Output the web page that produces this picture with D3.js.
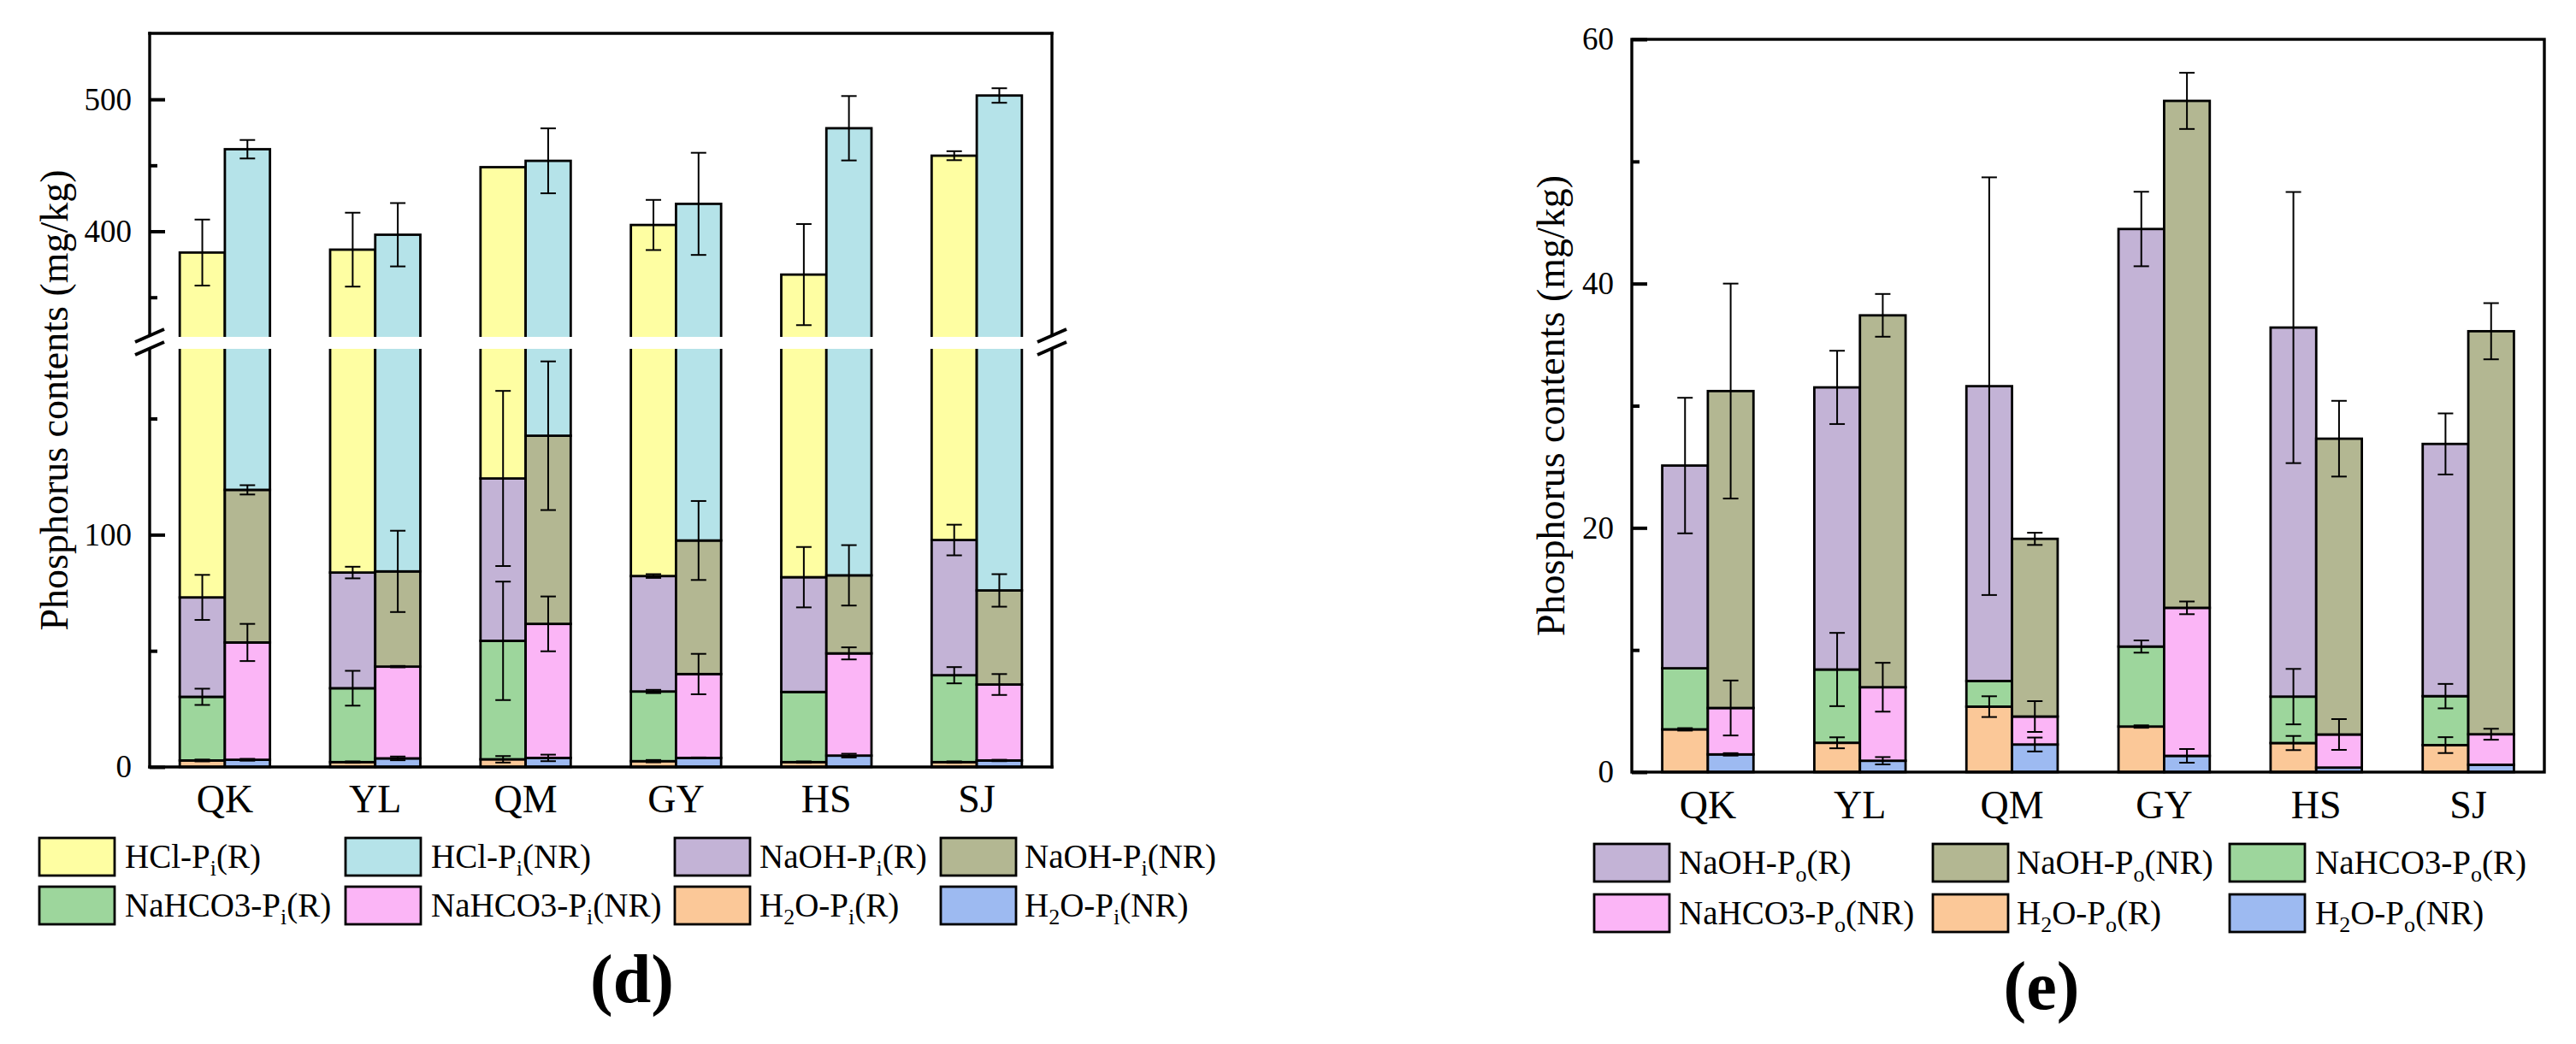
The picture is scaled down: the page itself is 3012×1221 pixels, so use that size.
<!DOCTYPE html>
<html>
<head>
<meta charset="utf-8">
<script src="https://cdn.jsdelivr.net/npm/d3@7"></script>
<style>
  body { margin: 0; background: #fff; }
  svg { display: block; }
  text { font-family: "Liberation Serif", "Times New Roman", serif; fill: #000; }
</style>
</head>
<body>
<div id="chart"></div>
<script>
// Categories (sites)
const categories = ["QK", "YL", "QM", "GY", "HS", "SJ"];

// Panel (d): inorganic P fractions (mg/kg), stacked bottom -> top
const piKeys = ["H2O", "NaHCO3", "NaOH", "HCl"];
const piH2O_R     = [2.8, 2.1, 3.3, 2.5, 2.1, 2.1];
const piNaHCO3_R  = [27.4, 31.8, 51.0, 30.0, 30.2, 37.4];
const piNaOH_R    = [42.8, 49.8, 69.9, 49.7, 49.4, 58.2];
const piHCl_R     = [310.9, 302.4, 324.4, 322.6, 285.5, 359.6];
const piH2O_NR    = [3.1, 3.7, 3.9, 3.9, 4.9, 2.8];
const piNaHCO3_NR = [50.5, 39.5, 57.7, 36.1, 44.0, 32.7];
const piNaOH_NR   = [65.7, 41.0, 81.0, 57.5, 33.6, 40.5];
const piHCl_NR    = [342.9, 313.2, 310.8, 323.3, 395.6, 426.9];
// error bars (sd)
const piH2O_R_sd     = [0.4, 0.3, 1.4, 0.5, 0.3, 0.3];
const piNaHCO3_R_sd  = [3.5, 7.5, 25.5, 0.7, 0, 3.5];
const piNaOH_R_sd    = [9.7, 2.5, 37.7, 0.8, 13, 6.6];
const piHCl_R_sd     = [25, 28, 0, 19, 38.3, 3.4];
const piH2O_NR_sd    = [0.4, 0.8, 1.4, 0.2, 0.8, 0.3];
const piNaHCO3_NR_sd = [8, 0.3, 11.8, 8.7, 2.6, 4.5];
const piNaOH_NR_sd   = [2, 17.5, 32, 17, 13, 7];
const piHCl_NR_sd    = [7, 24, 24.6, 38.7, 24.4, 5.5];

// Panel (e): organic P fractions (mg/kg)
const poKeys = ["H2O", "NaHCO3", "NaOH"];
const poH2O_R     = [3.5, 2.4, 5.36, 3.73, 2.38, 2.21];
const poNaHCO3_R  = [5.0, 6.0, 2.1, 6.55, 3.8, 4.01];
const poNaOH_R    = [16.6, 23.1, 24.14, 34.19, 30.22, 20.65];
const poH2O_NR    = [1.45, 0.93, 2.26, 1.33, 0.37, 0.6];
const poNaHCO3_NR = [3.8, 6.02, 2.29, 12.12, 2.71, 2.5];
const poNaOH_NR   = [25.95, 30.45, 14.55, 41.51, 24.22, 33.0];
const poH2O_R_sd     = [0.1, 0.45, 0.85, 0.1, 0.58, 0.65];
const poNaHCO3_R_sd  = [0, 3.0, 0, 0.5, 2.27, 1.0];
const poNaOH_R_sd    = [5.55, 3.0, 17.1, 3.05, 11.1, 2.5];
const poH2O_NR_sd    = [0.1, 0.3, 0.57, 0.56, 0, 0];
const poNaHCO3_NR_sd = [2.25, 2.0, 1.26, 0.52, 1.26, 0.45];
const poNaOH_NR_sd   = [8.8, 1.75, 0.5, 2.3, 3.1, 2.3];

// Tick values
const piLowMajor = [0, 100], piLowMinor = [50, 150];
const piHighMajor = [400, 500], piHighMinor = [350, 450];
const poMajor = [0, 20, 40, 60], poMinor = [10, 30, 50];

const colors = {
  HCl_R: "#FEFEA2", HCl_NR: "#B5E3E9",
  NaOH_R: "#C3B3D6", NaOH_NR: "#B3B792",
  NaHCO3_R: "#9DD69C", NaHCO3_NR: "#FBB5F6",
  H2O_R: "#FBC898", H2O_NR: "#9DBAF1"
};

const svg = d3.select("#chart").append("svg")
  .attr("width", 3012).attr("height", 1221);
svg.append("rect").attr("width", 3012).attr("height", 1221).attr("fill", "#fff");

// write a label made of [text, isSub] pieces
function richText(sel, pieces, size, subSize) {
  pieces.forEach(([t, sub], i) => {
    const prevSub = i > 0 && pieces[i - 1][1];
    const ts = sel.append("tspan").text(t)
      .style("font-size", (sub ? subSize : size) + "px");
    if (sub && !prevSub) ts.attr("dy", 9);
    if (!sub && prevSub) ts.attr("dy", -9);
  });
}

function drawPanel(p) {
  const g = svg.append("g");
  const x = d3.scaleBand().domain(categories).range([p.left, p.right])
    .paddingInner(0.4).paddingOuter(0.2);
  const xs = d3.scaleBand().domain(["R", "NR"]).range([0, x.bandwidth()]);

  const stacks = {};
  ["R", "NR"].forEach(grp => {
    const data = categories.map((c, i) => {
      const r = { cat: c };
      p.keys.forEach((k, j) => r[k] = p.values[grp][j][i]);
      return r;
    });
    stacks[grp] = d3.stack().keys(p.keys)(data);
  });

  // bars, one pass per axis segment (clipped)
  p.parts.forEach((part, n) => {
    const id = p.id + "clip" + n;
    svg.append("clipPath").attr("id", id).append("rect")
      .attr("x", p.left).attr("y", part.top)
      .attr("width", p.right - p.left).attr("height", part.bottom - part.top);
    const pg = g.append("g").attr("clip-path", `url(#${id})`);
    ["R", "NR"].forEach(grp => {
      pg.append("g").selectAll("g").data(stacks[grp]).join("g")
        .attr("fill", s => colors[s.key + "_" + grp])
        .selectAll("rect").data(s => s).join("rect")
        .attr("x", d => x(d.data.cat) + xs(grp))
        .attr("y", d => part.y(d[1]))
        .attr("width", xs.bandwidth())
        .attr("height", d => part.y(d[0]) - part.y(d[1]))
        .attr("stroke", "#000").attr("stroke-width", 2.8);
    });
  });

  // error bars on top of each segment
  const eg = g.append("g").attr("stroke", "#000").attr("stroke-width", 2);
  ["R", "NR"].forEach(grp => {
    stacks[grp].forEach((s, j) => {
      s.forEach((d, i) => {
        const e = p.sd[grp][j][i];
        if (!e) return;
        const cx = x(d.data.cat) + xs(grp) + xs.bandwidth() / 2;
        const y1 = p.y(d[1] + e), y2 = p.y(d[1] - e);
        eg.append("line").attr("x1", cx).attr("x2", cx).attr("y1", y1).attr("y2", y2);
        eg.append("line").attr("x1", cx - 9).attr("x2", cx + 9).attr("y1", y1).attr("y2", y1);
        eg.append("line").attr("x1", cx - 9).attr("x2", cx + 9).attr("y1", y2).attr("y2", y2);
      });
    });
  });

  // y axes
  p.axes.forEach(a => {
    const maj = g.append("g").attr("transform", `translate(${p.left},0)`)
      .call(d3.axisLeft(a.scale).tickValues(a.major).tickSize(-18).tickPadding(21)
        .tickFormat(d3.format("d")));
    maj.select(".domain").remove();
    maj.selectAll("line").attr("stroke", "#000").attr("stroke-width", 4);
    maj.selectAll("text").style("font-size", "37px").attr("fill", "#000");
    const mi = g.append("g").attr("transform", `translate(${p.left},0)`)
      .call(d3.axisLeft(a.scale).tickValues(a.minor).tickSize(-9).tickFormat(""));
    mi.select(".domain").remove();
    mi.selectAll("line").attr("stroke", "#000").attr("stroke-width", 4);
  });

  // frame
  p.frame(g);

  // category labels
  g.append("g").selectAll("text").data(categories).join("text")
    .attr("x", d => x(d) + x.bandwidth() / 2).attr("y", p.catY)
    .attr("text-anchor", "middle").style("font-size", "46px").text(d => d);

  // axis title
  g.append("text")
    .attr("transform", `translate(${p.titleX},${(p.top + p.bottom) / 2}) rotate(-90)`)
    .attr("text-anchor", "middle").style("font-size", "46px")
    .text("Phosphorus contents (mg/kg)");

  // legend
  p.legend.forEach((item, k) => {
    const col = k % p.legendCols.length, row = Math.floor(k / p.legendCols.length);
    const cy = p.legendRows[row];
    g.append("rect").attr("x", p.legendCols[col]).attr("y", cy - 22)
      .attr("width", 88).attr("height", 44)
      .attr("fill", colors[item.key]).attr("stroke", "#000").attr("stroke-width", 2.8);
    const t = g.append("text").attr("x", p.legendText[col]).attr("y", cy + 13);
    richText(t, item.label, 39, 26);
  });

  // panel letter
  g.append("text").attr("x", p.letterX).attr("y", p.letterY)
    .attr("text-anchor", "middle").style("font-size", "80px").style("font-weight", "bold")
    .text(p.letter);
}

// ---------- panel (d) with broken axis ----------
const dL = 175, dR = 1230, dT = 39, dB = 897, gapTop = 394, gapBot = 408;
const yLow = d3.scaleLinear().domain([0, 180]).range([dB, gapBot]);
const yHigh = d3.scaleLinear().domain([320, 550]).range([gapTop, dT]);
const yD = v => v <= 180 ? yLow(v) : yHigh(v);

drawPanel({
  id: "d", left: dL, right: dR, top: dT, bottom: dB,
  keys: piKeys,
  values: {
    R: [piH2O_R, piNaHCO3_R, piNaOH_R, piHCl_R],
    NR: [piH2O_NR, piNaHCO3_NR, piNaOH_NR, piHCl_NR]
  },
  sd: {
    R: [piH2O_R_sd, piNaHCO3_R_sd, piNaOH_R_sd, piHCl_R_sd],
    NR: [piH2O_NR_sd, piNaHCO3_NR_sd, piNaOH_NR_sd, piHCl_NR_sd]
  },
  parts: [
    { y: yLow, top: gapBot, bottom: dB + 2 },
    { y: yHigh, top: dT - 2, bottom: gapTop }
  ],
  y: yD,
  axes: [
    { scale: yLow, major: piLowMajor, minor: piLowMinor },
    { scale: yHigh, major: piHighMajor, minor: piHighMinor }
  ],
  frame: g => {
    const f = g.append("g").attr("stroke", "#000").attr("stroke-width", 3.4)
      .attr("stroke-linecap", "square");
    f.append("line").attr("x1", dL).attr("x2", dR).attr("y1", dT).attr("y2", dT);
    f.append("line").attr("x1", dL).attr("x2", dR).attr("y1", dB).attr("y2", dB);
    [dL, dR].forEach(xx => {
      f.append("line").attr("x1", xx).attr("x2", xx).attr("y1", dT).attr("y2", gapTop - 2);
      f.append("line").attr("x1", xx).attr("x2", xx).attr("y1", gapBot + 2).attr("y2", dB);
      [gapTop - 1.5, gapBot - 0.5].forEach(cy => {
        f.append("line").attr("stroke-width", 4).attr("stroke-linecap", "butt")
          .attr("x1", xx - 17).attr("y1", cy + 7.5).attr("x2", xx + 17).attr("y2", cy - 7.5);
      });
    });
  },
  catY: 950,
  titleX: 79,
  legendCols: [46, 404, 789, 1100],
  legendText: [146, 504, 888, 1198],
  legendRows: [1002, 1059],
  legend: [
    { key: "HCl_R", label: [["HCl-P", 0], ["i", 1], ["(R)", 0]] },
    { key: "HCl_NR", label: [["HCl-P", 0], ["i", 1], ["(NR)", 0]] },
    { key: "NaOH_R", label: [["NaOH-P", 0], ["i", 1], ["(R)", 0]] },
    { key: "NaOH_NR", label: [["NaOH-P", 0], ["i", 1], ["(NR)", 0]] },
    { key: "NaHCO3_R", label: [["NaHCO3-P", 0], ["i", 1], ["(R)", 0]] },
    { key: "NaHCO3_NR", label: [["NaHCO3-P", 0], ["i", 1], ["(NR)", 0]] },
    { key: "H2O_R", label: [["H", 0], ["2", 1], ["O-P", 0], ["i", 1], ["(R)", 0]] },
    { key: "H2O_NR", label: [["H", 0], ["2", 1], ["O-P", 0], ["i", 1], ["(NR)", 0]] }
  ],
  letter: "(d)", letterX: 739, letterY: 1172
});

// ---------- panel (e) ----------
const eL = 1908, eR = 2975, eT = 46, eB = 903;
const yE = d3.scaleLinear().domain([0, 60]).range([eB, eT]);

drawPanel({
  id: "e", left: eL, right: eR, top: eT, bottom: eB,
  keys: poKeys,
  values: {
    R: [poH2O_R, poNaHCO3_R, poNaOH_R],
    NR: [poH2O_NR, poNaHCO3_NR, poNaOH_NR]
  },
  sd: {
    R: [poH2O_R_sd, poNaHCO3_R_sd, poNaOH_R_sd],
    NR: [poH2O_NR_sd, poNaHCO3_NR_sd, poNaOH_NR_sd]
  },
  parts: [{ y: yE, top: eT - 2, bottom: eB + 2 }],
  y: yE,
  axes: [{ scale: yE, major: poMajor, minor: poMinor }],
  frame: g => {
    g.append("rect").attr("x", eL).attr("y", eT).attr("width", eR - eL).attr("height", eB - eT)
      .attr("fill", "none").attr("stroke", "#000").attr("stroke-width", 3.4);
  },
  catY: 957,
  titleX: 1829,
  legendCols: [1864, 2260, 2607],
  legendText: [1963, 2358, 2707],
  legendRows: [1009, 1068],
  legend: [
    { key: "NaOH_R", label: [["NaOH-P", 0], ["o", 1], ["(R)", 0]] },
    { key: "NaOH_NR", label: [["NaOH-P", 0], ["o", 1], ["(NR)", 0]] },
    { key: "NaHCO3_R", label: [["NaHCO3-P", 0], ["o", 1], ["(R)", 0]] },
    { key: "NaHCO3_NR", label: [["NaHCO3-P", 0], ["o", 1], ["(NR)", 0]] },
    { key: "H2O_R", label: [["H", 0], ["2", 1], ["O-P", 0], ["o", 1], ["(R)", 0]] },
    { key: "H2O_NR", label: [["H", 0], ["2", 1], ["O-P", 0], ["o", 1], ["(NR)", 0]] }
  ],
  letter: "(e)", letterX: 2387, letterY: 1180
});
</script>
</body>
</html>
